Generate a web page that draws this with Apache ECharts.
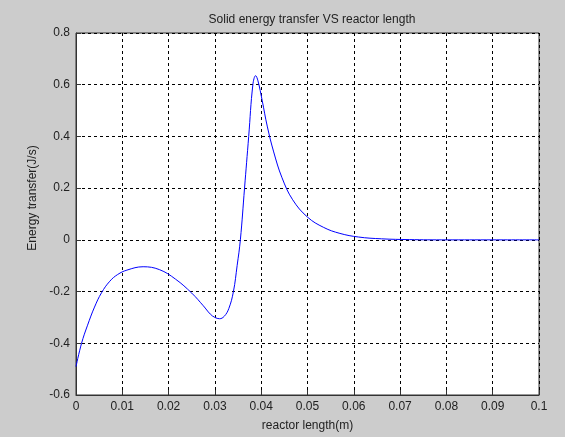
<!DOCTYPE html>
<html>
<head>
<meta charset="utf-8">
<script src="https://cdn.jsdelivr.net/npm/echarts@6/dist/echarts.min.js"></script>
<style>
  html, body { margin: 0; padding: 0; background: #cccccc; }
  #chart { width: 565px; height: 437px; }
</style>
</head>
<body>
<div id="chart"></div>
<script>
// reactor length (m)
const lengthM = [
  0, 0.0012, 0.0025, 0.004, 0.0055, 0.0073, 0.009, 0.011, 0.0145, 0.018,
  0.0215, 0.025, 0.0275, 0.029, 0.030, 0.031, 0.032, 0.033, 0.034, 0.0348,
  0.0355, 0.0364, 0.0373, 0.0382, 0.0388, 0.0393, 0.0402, 0.0413, 0.0427, 0.0445,
  0.0468, 0.05, 0.0535, 0.057, 0.061, 0.066, 0.072, 0.08, 0.09, 0.1
]
// energy transfer (J/s)
const energy = [
  -0.49, -0.40, -0.33, -0.26, -0.205, -0.16, -0.134, -0.117, -0.104, -0.115,
  -0.152, -0.206, -0.255, -0.287, -0.3, -0.305, -0.296, -0.266, -0.2, -0.1,
  0.0, 0.2, 0.4, 0.6, 0.635, 0.615, 0.54, 0.44, 0.34, 0.24,
  0.155, 0.088, 0.048, 0.025, 0.011, 0.004, 0.001, 0, 0, 0
]
const xTicks = ['0', '0.01', '0.02', '0.03', '0.04', '0.05', '0.06', '0.07', '0.08', '0.09', '0.1']
const yTicks = ['-0.6', '-0.4', '-0.2', '0', '0.2', '0.4', '0.6', '0.8']

const chart = echarts.init(document.getElementById('chart'))
const font = 'Liberation Sans, Arial, sans-serif'

chart.setOption({
  backgroundColor: '#cccccc',
  animation: false,
  title: {
    text: 'Solid energy transfer VS reactor length',
    left: 307,
    top: 9,
    textAlign: 'center',
    textStyle: { fontFamily: font, fontSize: 12, fontWeight: 'normal', color: '#222' }
  },
  grid: {
    left: 76, top: 33, right: 26, bottom: 41,
    show: true, backgroundColor: '#ffffff', borderColor: '#333', borderWidth: 1
  },
  graphic: [{
    type: 'text',
    rotation: Math.PI / 2,
    x: 33, y: 198,
    style: {
      text: 'Energy transfer(J/s)',
      fontFamily: font, fontSize: 12, fill: '#222',
      align: 'center', verticalAlign: 'middle'
    }
  }],
  xAxis: {
    type: 'value',
    min: 0, max: 0.1, interval: 0.01,
    name: 'reactor length(m)',
    nameLocation: 'middle',
    nameGap: 25,
    nameTextStyle: { fontFamily: font, fontSize: 12, color: '#222' },
    axisLine: { show: true, onZero: false, lineStyle: { color: '#333' } },
    axisTick: { show: true, inside: true, length: 5, lineStyle: { color: '#333' } },
    axisLabel: {
      fontFamily: font, fontSize: 12, color: '#222', margin: 6,
      formatter: (v) => xTicks[Math.round(v * 100)]
    },
    splitLine: { show: true, lineStyle: { color: '#000', type: [3, 3], width: 1 } }
  },
  yAxis: {
    type: 'value',
    min: -0.6, max: 0.8, interval: 0.2,
    axisLine: { show: true, lineStyle: { color: '#333' } },
    axisTick: { show: true, inside: true, length: 5, lineStyle: { color: '#333' } },
    axisLabel: {
      fontFamily: font, fontSize: 12, color: '#222', margin: 6,
      formatter: (v) => yTicks[Math.round((v + 0.6) * 5)]
    },
    splitLine: { show: true, lineStyle: { color: '#000', type: [3, 3], width: 1 } }
  },
  series: [{
    type: 'line',
    data: lengthM.map((x, i) => [x, energy[i]]),
    showSymbol: false,
    smooth: 0.4,
    lineStyle: { color: '#0000ff', width: 1 }
  }]
})
</script>
</body>
</html>
